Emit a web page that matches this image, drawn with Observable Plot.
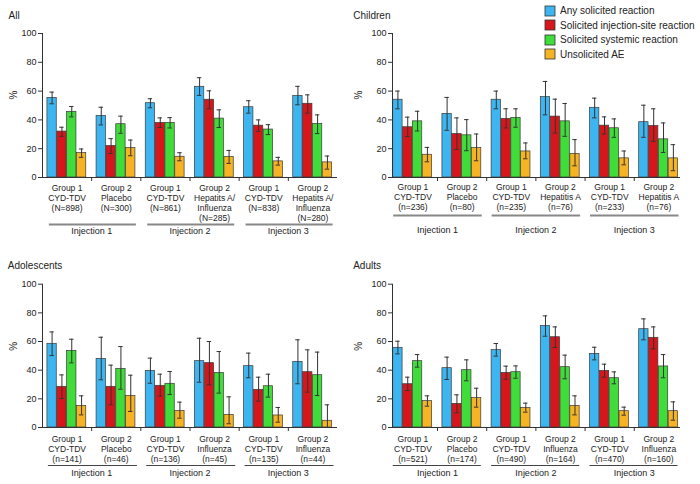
<!DOCTYPE html>
<html><head><meta charset="utf-8">
<script src="https://cdn.jsdelivr.net/npm/d3@7"></script>
<script src="https://cdn.jsdelivr.net/npm/@observablehq/plot@0.6"></script>
<style>
body{margin:0;background:#fff;font-family:"Liberation Sans",Arial,Helvetica,sans-serif;}
#wrap{position:relative;width:700px;height:484px;overflow:hidden;background:#fff;}
.panel{position:absolute;}
#legend{position:absolute;left:545px;top:4px;width:155px;z-index:5;font-family:"Liberation Sans",Arial,sans-serif;font-size:10px;color:#222;}
#legend div{line-height:13.5px;}
#legend svg{overflow:visible;}
#legend svg rect{stroke:#333;stroke-width:0.8;}
</style></head><body><div id="wrap"></div>
<script>
const series = ["Any solicited reaction", "Solicited injection-site reaction", "Solicited systemic reaction", "Unsolicited AE"];
const colors = ["#3db5f0", "#d7161c", "#3fdc3a", "#f6b324"];
const injections = ["Injection 1", "Injection 2", "Injection 3"];

// [value, lower CI, upper CI] per group
const allGroups = ["Group 1\nCYD-TDV\n(N=898)", "Group 2\nPlacebo\n(N=300)", "Group 1\nCYD-TDV\n(N=861)", "Group 2\nHepatits A/\nInfluenza\n(N=285)", "Group 1\nCYD-TDV\n(N=838)", "Group 2\nHepatits A/\nInfluenza\n(N=280)"];
const allAny  = [[55.3,51.2,59.3],[42.8,36.5,48.8],[51.6,48.4,54.7],[63,57,69.3],[48.8,44.7,53.3],[56.7,50.5,63.3]];
const allSite = [[31.9,28.6,34.9],[21.9,16.7,27],[37.9,34.7,41.4],[54,47.7,60.2],[36,32.1,40],[51.2,44.7,57.4]];
const allSys  = [[45.6,42.1,49.3],[37,30.7,42.6],[37.9,34.4,41.6],[40.9,34.7,47],[33.3,29.8,36.7],[37.2,30.5,43.5]];
const allAE   = [[17,14,19.8],[20.5,15.1,26],[14.4,11.6,17.2],[14.2,9.8,18.8],[11.2,8.6,14],[10.5,5.8,14.9]];

const chGroups = ["Group 1\nCYD-TDV\n(n=236)", "Group 2\nPlacebo\n(n=80)", "Group 1\nCYD-TDV\n(n=235)", "Group 2\nHepatitis A\n(n=76)", "Group 1\nCYD-TDV\n(n=233)", "Group 2\nHepatitis A\n(n=76)"];
const chAny  = [[54,47.7,60],[44.2,32.8,55.6],[54,47.7,60],[55.8,43.5,66.7],[48.4,41.4,55.1],[38.4,27.9,50.2]];
const chSite = [[34.9,28.4,41.9],[30.2,19.5,41.4],[40.7,34.4,47.7],[42.3,30.9,54.4],[36,30.2,42.1],[35.8,25.1,47.7]];
const chSys  = [[39,32.3,46],[29.3,18.6,40.2],[41.4,34.9,47.7],[39,28.6,51.4],[34.2,27.9,40.7],[26.5,17.4,37.9]];
const chAE   = [[15.8,10.9,20.9],[20.5,11.6,30.2],[18.1,13,24],[16.3,8.1,26.3],[13.3,8.8,18.4],[13.3,4.7,22.8]];

const adGroups = ["Group 1\nCYD-TDV\n(n=141)", "Group 2\nPlacebo\n(n=46)", "Group 1\nCYD-TDV\n(n=136)", "Group 2\nInfluenza\n(n=45)", "Group 1\nCYD-TDV\n(n=135)", "Group 2\nInfluenza\n(n=44)"];
const adAny  = [[58.4,50.2,66.7],[47.9,33.3,63],[39.5,30.9,48.4],[46.3,31.6,62.3],[42.8,34.7,51.9],[45.8,30.5,61.2]];
const adSite = [[28.4,20.2,36.7],[28.4,15.8,43.5],[29.1,21.9,37.2],[44.9,29.8,60],[26.3,18.4,35.1],[38.6,24.7,54.2]];
const adSys  = [[53.5,45.1,61.6],[40.9,26.7,56.5],[30.5,23,39.1],[38.1,24,53],[28.8,21.2,37.2],[36.5,22.3,52.6]];
const adAE   = [[15.1,8.8,22.1],[22.1,11.2,36.5],[11.6,6.5,17.7],[8.8,2.6,21.4],[8.4,3.7,14],[4.7,0,15.8]];

const auGroups = ["Group 1\nCYD-TDV\n(n=521)", "Group 2\nPlacebo\n(n=174)", "Group 1\nCYD-TDV\n(n=490)", "Group 2\nInfluenza\n(n=164)", "Group 1\nCYD-TDV\n(n=470)", "Group 2\nInfluenza\n(n=160)"];
const auAny  = [[55.6,51.4,60.2],[41.4,33.5,49.1],[54,49.8,58.6],[70.9,63.7,77.9],[51.4,47.2,56],[68.6,61.2,75.8]];
const auSite = [[30.2,25.8,35.1],[16.5,10.2,22.8],[38.1,33.7,42.8],[63,55.8,70.2],[39.5,35.1,44.2],[62.6,54.9,70.2]];
const auSys  = [[46.3,42.1,50.9],[40,32.6,47.2],[38.6,34.4,43],[42.1,34,50.5],[34.4,30.5,38.8],[42.6,34.7,50.9]];
const auAE   = [[18.4,14.9,22.1],[20.5,14.2,27.4],[13.7,10.7,17],[15.1,8.8,22.1],[11.4,8.6,14.2],[11.4,5.1,17.9]];

const yTicks = [0, 20, 40, 60, 80, 100];
const FONT = '"Liberation Sans", Arial, sans-serif';
const wrap = document.getElementById("wrap");

function panel(cfg) {
  const rows = [];
  cfg.data.forEach((arr, s) => arr.forEach((t, g) => rows.push({g, s, series: series[s], v: t[0], lo: t[1], hi: t[2]})));
  const BW = 0.19, OFF = 0.1, STEP = 0.2;
  const left = d => d.g + OFF + d.s * STEP;
  const ctr = d => left(d) + BW / 2;
  const p = Plot.plot({
    width: cfg.width, height: cfg.height,
    marginTop: cfg.mt, marginBottom: cfg.mb, marginLeft: cfg.ml, marginRight: cfg.mr,
    style: {fontFamily: FONT, fontSize: "8.5px", color: "#222", background: "transparent", overflow: "visible"},
    x: {domain: cfg.xdom},
    y: {domain: [0, 100]},
    color: {domain: series, range: colors},
    marks: [
      Plot.rectY(rows, {x1: left, x2: d => left(d) + BW, y1: 0, y2: "v", fill: "series", stroke: "#3a3a3a", strokeWidth: 0.7}),
      Plot.ruleX(rows, {x: ctr, y1: "lo", y2: "hi", stroke: "#333", strokeWidth: 1}),
      Plot.ruleY(rows, {y: "hi", x1: d => ctr(d) - 0.045, x2: d => ctr(d) + 0.045, stroke: "#333", strokeWidth: 1}),
      Plot.ruleY(rows, {y: "lo", x1: d => ctr(d) - 0.045, x2: d => ctr(d) + 0.045, stroke: "#333", strokeWidth: 1}),
      Plot.ruleY([0], {stroke: "#333", strokeWidth: 1}),
      Plot.ruleX([cfg.xdom[0]], {y1: 0, y2: 100, stroke: "#333", strokeWidth: 1}),
      Plot.axisY({ticks: yTicks, tickSize: 4, tickPadding: 2, label: null, fontSize: 9, stroke: "#333"}),
      Plot.axisX({ticks: [1, 2, 3, 4, 5], tickSize: 4, tickFormat: () => "", label: null, stroke: "#333"}),
      Plot.text(cfg.groups, {x: (d, i) => i + 0.5, y: 0, text: d => d, lineAnchor: "top", dy: cfg.labelDy - 3, fontSize: 8.5, lineHeight: 1.18, fill: "#222"}),
      Plot.ruleY(injections, {x1: (d, i) => 2 * i + cfg.bl, x2: (d, i) => 2 * i + cfg.br, y: 0, dy: cfg.bracketDy, stroke: cfg.bracketColor, strokeWidth: cfg.bracketWidth}),
      Plot.text(injections, {x: (d, i) => 2 * i + 1, y: 0, text: d => d, dy: cfg.injDy, fontSize: 9, fill: "#222"}),
      Plot.text([cfg.title], {frameAnchor: "top-left", dx: cfg.tdx, dy: cfg.tdy, textAnchor: "start", fontSize: 10, fill: "#222"}),
      Plot.text(["%"], {frameAnchor: "left", dx: cfg.pdx, dy: cfg.pdy, rotate: -90, fontSize: 10, fill: "#222"})
    ]
  });
  p.classList.add("panel");
  p.style.left = cfg.left + "px";
  p.style.top = cfg.top + "px";
  wrap.appendChild(p);
}

panel({title: "All", groups: allGroups, data: [allAny, allSite, allSys, allAE],
  left: 0, top: 0, width: 350, height: 240, mt: 33, mb: 63, ml: 42, mr: 13, xdom: [0, 6],
  labelDy: 9, bracketDy: 47, injDy: 54, bl: 0.14, br: 1.91, bracketColor: "#888", bracketWidth: 2,
  tdx: -34, tdy: -22, pdx: -29, pdy: -6});
panel({title: "Children", groups: chGroups, data: [chAny, chSite, chSys, chAE],
  left: 350, top: 0, width: 350, height: 240, mt: 33, mb: 63, ml: 42, mr: 20, xdom: [0.085, 5.94],
  labelDy: 8, bracketDy: 38, injDy: 53, bl: 0.11, br: 1.91, bracketColor: "#888", bracketWidth: 2,
  tdx: -39.3, tdy: -22, pdx: -33.7, pdy: -6});
panel({title: "Adolescents", groups: adGroups, data: [adAny, adSite, adSys, adAE],
  left: 0, top: 240, width: 350, height: 244, mt: 43.7, mb: 57, ml: 42, mr: 13, xdom: [0, 6],
  labelDy: 10, bracketDy: 38, injDy: 46, bl: 0.12, br: 1.93, bracketColor: "#444", bracketWidth: 1,
  tdx: -34.7, tdy: -22.7, pdx: -28.7, pdy: -5});
panel({title: "Adults", groups: auGroups, data: [auAny, auSite, auSys, auAE],
  left: 350, top: 240, width: 350, height: 244, mt: 43.7, mb: 57, ml: 42, mr: 20, xdom: [0.085, 5.94],
  labelDy: 10, bracketDy: 38, injDy: 46, bl: 0.1, br: 1.89, bracketColor: "#444", bracketWidth: 1,
  tdx: -39.3, tdy: -22.7, pdx: -33.7, pdy: -5});

const lg = Plot.legend({color: {domain: series, range: colors}, swatchSize: 10, columns: 1,
  style: {fontFamily: FONT, fontSize: "10px", color: "#222"}});
const lgWrap = document.createElement("div");
lgWrap.id = "legend";
lgWrap.appendChild(lg);
wrap.appendChild(lgWrap);
</script></body></html>
